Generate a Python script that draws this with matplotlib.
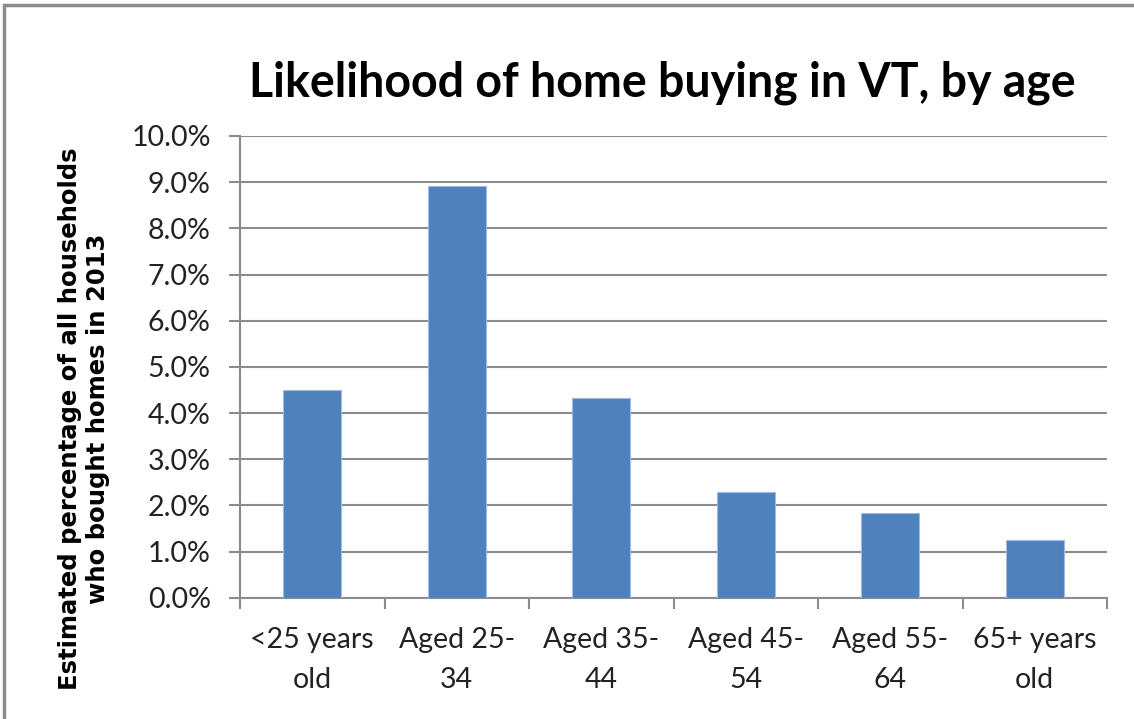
import matplotlib
matplotlib.use("Agg")
import matplotlib.pyplot as plt
from matplotlib.patches import Rectangle
from matplotlib.ticker import FuncFormatter, FixedLocator

categories = ["<25 years\nold", "Aged 25-\n34", "Aged 35-\n44", "Aged 45-\n54", "Aged 55-\n64", "65+ years\nold"]
values = [4.5, 8.92, 4.33, 2.29, 1.84, 1.25]
y_ticks = [0, 1, 2, 3, 4, 5, 6, 7, 8, 9, 10]
title = "Likelihood of home buying in VT, by age"
y_label = "Estimated percentage of all households\nwho bought homes in 2013"

W, H = 1134, 719
fig = plt.figure(figsize=(W / 100, H / 100), dpi=100)
fig.patch.set_facecolor("white")

# outer frame
fig.patches.append(Rectangle((4 / W, -0.1), 1.2, (H - 5) / H + 0.1, transform=fig.transFigure,
                             fill=False, edgecolor="#8c8c8c", linewidth=2.5, zorder=0))

ax = fig.add_axes([240 / W, (H - 597.7) / H, (1107 - 240) / W, (597.7 - 136) / H])
grid_c = "#8c8c8c"
x = list(range(len(categories)))
ax.bar(x, values, width=0.4, color="#4F81BD", edgecolor="#9cbce6", linewidth=0.8, zorder=3)

ax.set_xlim(-0.5, len(categories) - 0.5)
ax.set_ylim(0, 10)
ax.set_yticks(y_ticks)
ax.yaxis.set_major_formatter(FuncFormatter(lambda v, p: f"{v:.1f}%"))
ax.grid(axis="y", color=grid_c, linewidth=1.5, zorder=0)
ax.set_axisbelow(True)

ax.xaxis.set_major_locator(FixedLocator([i - 0.5 for i in range(len(categories) + 1)]))
ax.xaxis.set_minor_locator(FixedLocator(x))
ax.set_xticklabels([], minor=False)
ax.set_xticklabels(categories, minor=True)
ax.tick_params(axis="x", which="major", length=8, width=1.5, color=grid_c, direction="out")
ax.tick_params(axis="x", which="minor", length=0, pad=21)
ax.tick_params(axis="y", length=8, width=1.5, color=grid_c, pad=13)

for side in ["top", "right"]:
    ax.spines[side].set_visible(False)
for side in ["left", "bottom"]:
    ax.spines[side].set_color(grid_c)
    ax.spines[side].set_linewidth(1.5)

for lab in ax.get_yticklabels():
    lab.set_fontfamily("Lato")
    lab.set_fontsize(20.5)
    lab.set_color("#222222")
for lab in ax.get_xticklabels(minor=True):
    lab.set_fontfamily("Lato")
    lab.set_fontsize(20.5)
    lab.set_color("#222222")
    lab.set_linespacing(1.65)

fig.text(662 / W, 1 - 83 / H, title, ha="center", va="center", fontsize=33.5,
         fontweight="bold", family="Lato", color="black")
fig.text(84 / W, 1 - 419 / H, y_label, rotation=90, ha="center", va="center",
         multialignment="center", fontsize=17.5, fontweight="bold", family="DejaVu Sans",
         linespacing=1.25, color="black")

fig.savefig("out.png", dpi=100, facecolor="white")
